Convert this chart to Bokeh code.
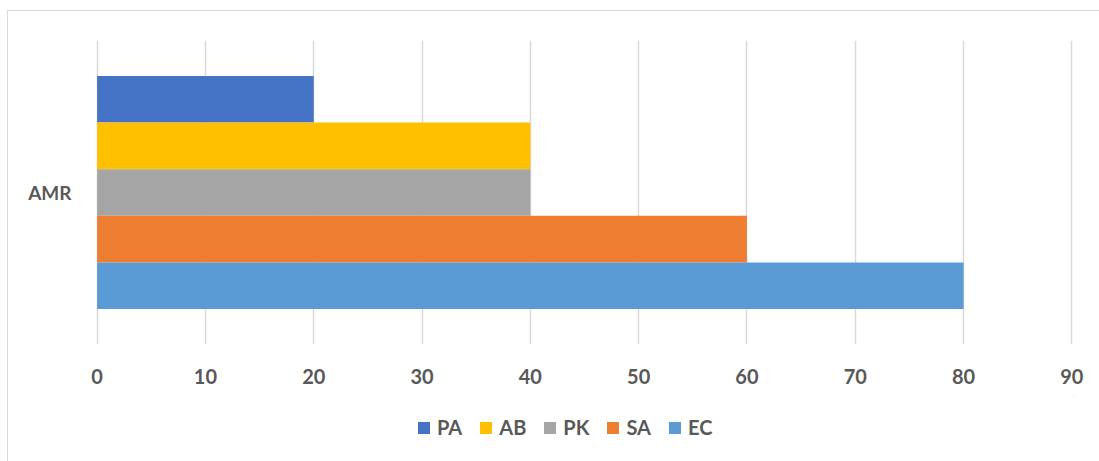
from bokeh.plotting import figure
from bokeh.models import Legend, LegendItem, FactorRange, Range1d, ColumnDataSource
from bokeh.layouts import column
from bokeh.transform import dodge
from bokeh.embed import file_html
from bokeh.resources import INLINE

categories = ["AMR"]
series = ["PA", "AB", "PK", "SA", "EC"]
values = [20, 40, 40, 60, 80]
colors = ["#4472C4", "#FFC000", "#A5A5A5", "#ED7D31", "#5B9BD5"]
x_ticks = [0, 10, 20, 30, 40, 50, 60, 70, 80, 90]

FONT = "Lato"
TXT = "#595959"
BORDER = "1.5px solid #D9D9D9"

p = figure(width=1092, height=385, y_range=FactorRange(*categories),
           x_range=Range1d(-0.15, 90.15), output_backend="svg", toolbar_location=None,
           min_border_left=87, min_border_top=29, min_border_right=27,
           min_border_bottom=52, margin=(10, 0, 0, 7))
p.styles = {"border-top": BORDER, "border-left": BORDER}

bar_h = 0.1533
n = len(series)
for i, (s, v, c) in enumerate(zip(series, values, colors)):
    off = ((n - 1) / 2 - i) * bar_h
    src = ColumnDataSource(dict(y=categories, v=[v]))
    p.hbar(y=dodge("y", off, range=p.y_range), left=0, right="v", height=bar_h,
           source=src, fill_color=c, line_color=None)

p.outline_line_color = None
p.ygrid.grid_line_color = None
p.xgrid.grid_line_color = "#D9D9D9"
p.xgrid.grid_line_width = 1.5

p.xaxis.ticker = x_ticks
p.xaxis.axis_line_color = None
p.xaxis.major_tick_line_color = None
p.xaxis.minor_tick_line_color = None
p.xaxis.major_tick_out = 0
p.xaxis.major_tick_in = 0
p.xaxis.major_label_standoff = 24
p.xaxis.major_label_text_font = FONT
p.xaxis.major_label_text_font_style = "bold"
p.xaxis.major_label_text_font_size = "20px"
p.xaxis.major_label_text_color = TXT

p.yaxis.axis_line_color = None
p.yaxis.major_tick_line_color = None
p.yaxis.major_tick_out = 0
p.yaxis.major_tick_in = 0
p.yaxis.major_label_standoff = 24
p.yaxis.major_label_text_font = FONT
p.yaxis.major_label_text_font_style = "bold"
p.yaxis.major_label_text_font_size = "19px"
p.yaxis.major_label_text_color = TXT

# legend strip below the chart
lg = figure(width=1092, height=66, x_range=Range1d(0, 1), y_range=Range1d(0, 1),
            output_backend="svg", toolbar_location=None, min_border=0,
            margin=(0, 0, 0, 7))
lg.styles = {"border-left": BORDER}
lg.axis.visible = False
lg.grid.visible = False
lg.outline_line_color = None
items = []
for s, c in zip(series, colors):
    # off-screen proxy glyph, only used for the legend swatch
    r = lg.hbar(y=[5], left=[5], right=[6], height=0.1, fill_color=c, line_color=None)
    items.append(LegendItem(label=s, renderers=[r]))

legend = Legend(items=items, orientation="horizontal", location=(321, 22),
                glyph_width=15, glyph_height=15, label_standoff=6, spacing=16,
                label_text_font=FONT, label_text_font_style="bold",
                label_text_font_size="20px", label_text_color=TXT,
                border_line_color=None, background_fill_alpha=0, margin=0, padding=4)
lg.add_layout(legend, "center")

layout = column(p, lg, spacing=0)
open("out.html", "w").write(file_html(layout, INLINE))
